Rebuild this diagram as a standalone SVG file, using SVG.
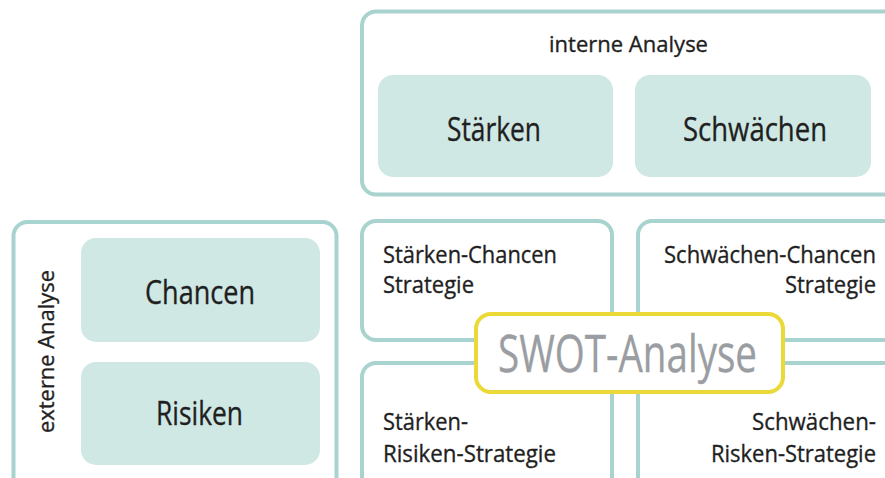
<svg xmlns="http://www.w3.org/2000/svg" width="885" height="478" viewBox="0 0 885 478">
  <style>
    .frame { fill: #ffffff; stroke: #a9d3cf; stroke-width: 4; }
    .cell { fill: #cfe8e4; stroke: none; }
    .core { fill: #ffffff; stroke: #ead936; stroke-width: 4; }
    text { font-family: "Open Sans", "Noto Sans", "Liberation Sans", sans-serif; fill: #1f1f1f; stroke: #1f1f1f; stroke-width: 0.35; }
    .big { font-size: 33px; text-anchor: middle; }
    .head { font-size: 22px; text-anchor: middle; }
    .strat { font-size: 24px; }
    .end { text-anchor: end; }
    .title { font-size: 51px; text-anchor: middle; fill: #9a9da2; stroke: #9a9da2; }
  </style>

  <!-- internal analysis: strengths and weaknesses -->
  <g id="interne-analyse">
    <rect class="frame" x="362" y="11.5" width="560" height="183" rx="14"/>
    <text class="head" x="628.5" y="52" textLength="159" lengthAdjust="spacingAndGlyphs">interne Analyse</text>
  </g>
  <g id="staerken">
    <rect class="cell" x="378" y="75" width="235" height="102" rx="15"/>
    <text class="big" x="494" y="141" textLength="94" lengthAdjust="spacingAndGlyphs">Stärken</text>
  </g>
  <g id="schwaechen">
    <rect class="cell" x="635" y="75" width="236" height="102" rx="15"/>
    <text class="big" x="755" y="141" textLength="144" lengthAdjust="spacingAndGlyphs">Schwächen</text>
  </g>

  <!-- external analysis: opportunities and threats -->
  <g id="externe-analyse">
    <rect class="frame" x="13.5" y="222" width="323" height="300" rx="14"/>
    <text class="head" transform="translate(54 351.5) rotate(-90)" x="0" y="0" textLength="163" lengthAdjust="spacingAndGlyphs">externe Analyse</text>
  </g>
  <g id="chancen">
    <rect class="cell" x="81" y="238" width="239" height="104" rx="15"/>
    <text class="big" x="200" y="304" textLength="110" lengthAdjust="spacingAndGlyphs">Chancen</text>
  </g>
  <g id="risiken">
    <rect class="cell" x="81" y="362" width="239" height="103" rx="15"/>
    <text class="big" x="199.5" y="425" textLength="87" lengthAdjust="spacingAndGlyphs">Risiken</text>
  </g>

  <!-- strategy quadrants -->
  <g id="sc-strategie">
    <rect class="frame" x="362" y="221" width="250" height="119" rx="14"/>
    <text class="strat" x="383" y="263" textLength="174" lengthAdjust="spacingAndGlyphs">Stärken-Chancen</text>
    <text class="strat" x="383" y="293" textLength="91" lengthAdjust="spacingAndGlyphs">Strategie</text>
  </g>
  <g id="wc-strategie">
    <rect class="frame" x="638" y="221" width="280" height="119" rx="14"/>
    <text class="strat end" x="876" y="263" textLength="212" lengthAdjust="spacingAndGlyphs">Schwächen-Chancen</text>
    <text class="strat end" x="876" y="293" textLength="91" lengthAdjust="spacingAndGlyphs">Strategie</text>
  </g>
  <g id="sr-strategie">
    <rect class="frame" x="362" y="363" width="250" height="150" rx="14"/>
    <text class="strat" x="383" y="430" textLength="85" lengthAdjust="spacingAndGlyphs">Stärken-</text>
    <text class="strat" x="383" y="462" textLength="173" lengthAdjust="spacingAndGlyphs">Risiken-Strategie</text>
  </g>
  <g id="wr-strategie">
    <rect class="frame" x="638" y="363" width="280" height="150" rx="14"/>
    <text class="strat end" x="876" y="430" textLength="124" lengthAdjust="spacingAndGlyphs">Schwächen-</text>
    <text class="strat end" x="876" y="462" textLength="165" lengthAdjust="spacingAndGlyphs">Risken-Strategie</text>
  </g>

  <!-- central label -->
  <g id="swot-analyse">
    <rect class="core" x="476" y="314" width="307" height="78" rx="15"/>
    <text class="title" x="627.5" y="372" textLength="259" lengthAdjust="spacingAndGlyphs">SWOT-Analyse</text>
  </g>

  <g id="connectors"/>
</svg>
